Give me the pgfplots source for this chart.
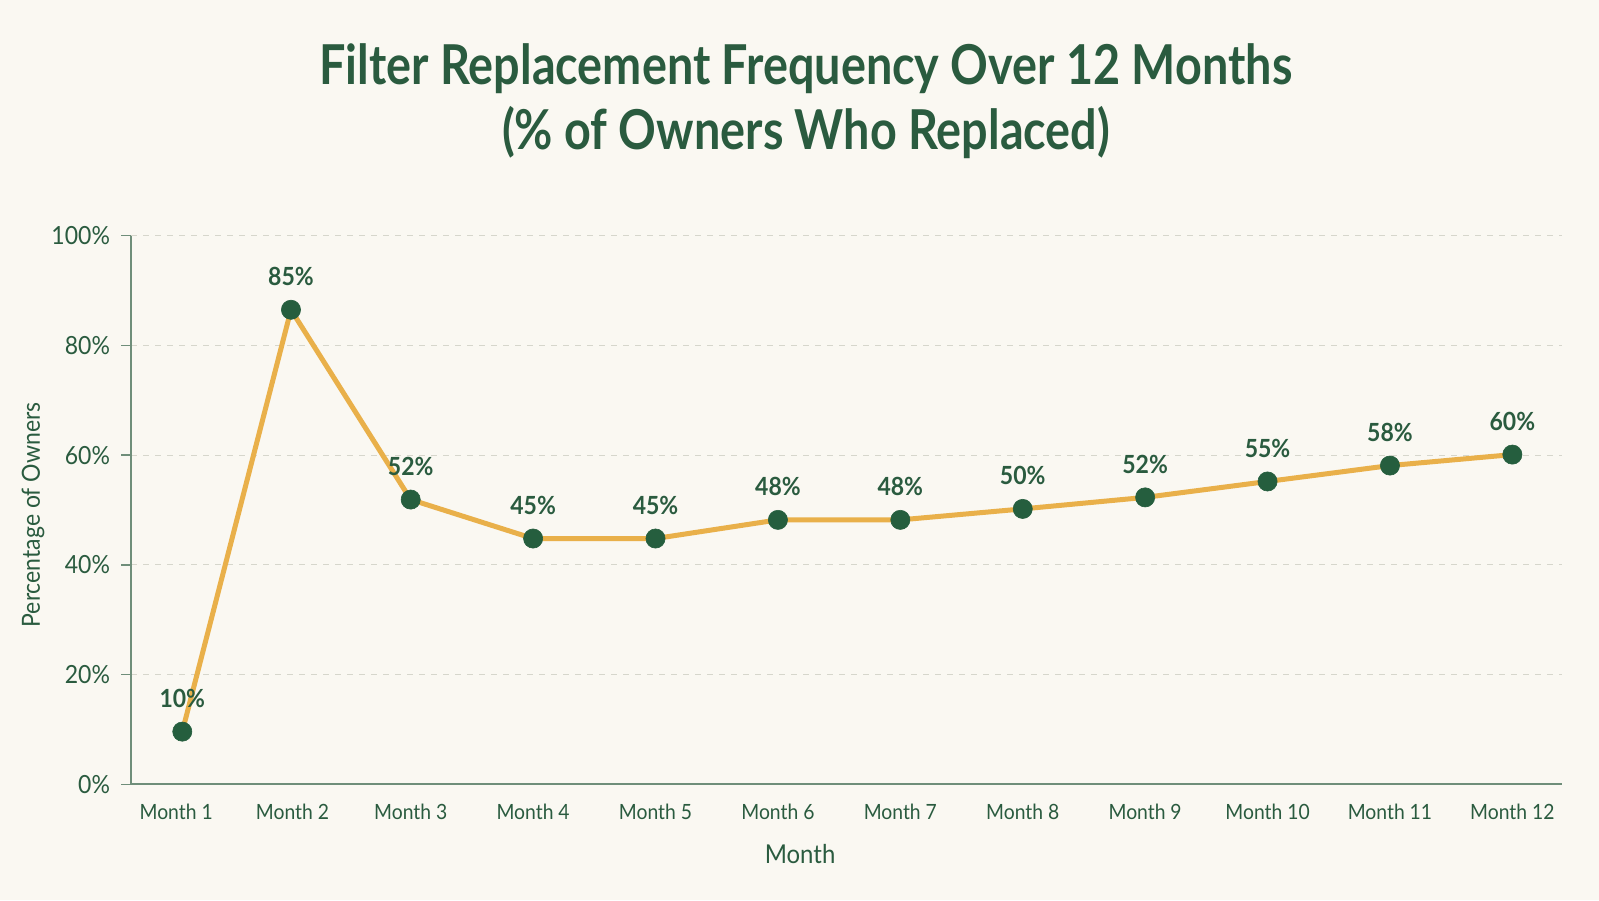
\documentclass[border=0pt]{standalone}
\usepackage{fontspec}
\setmainfont{Lato}[FakeStretch=0.92]
\newfontfamily\titlefont{Lato}[FakeStretch=0.85]
\usepackage{pgfplots}
\pgfplotsset{compat=1.18}
\definecolor{bg}{HTML}{FAF8F2}
\definecolor{dgreen}{HTML}{2A5B3F}
\definecolor{mgreen}{HTML}{255E3E}
\definecolor{gold}{HTML}{E9B04A}
\definecolor{axisg}{HTML}{6F8E7A}
\definecolor{gridc}{HTML}{D6D6CC}
\begin{document}
\begin{tikzpicture}
\fill[bg] (0,0) rectangle (799.5pt,450pt);
\node[font=\titlefont\bfseries\fontsize{27.5}{32.5}\selectfont, text=dgreen, align=center] at (403pt,399.5pt) {Filter Replacement Frequency Over 12 Months\\(\% of Owners Who Replaced)};
\begin{axis}[
  at={(65.5pt,57.85pt)}, anchor=south west,
  scale only axis, width=715.4pt, height=274.3pt,
  xmin=0.715, xmax=12.404, ymin=0, ymax=100,
  axis x line=bottom, axis y line=left,
  axis line style={axisg, line width=1pt, -},
  xtick={1.084,2.034,3,4,5,6,7,8,9,10,11,12},
  xticklabels={Month 1,Month 2,Month 3,Month 4,Month 5,Month 6,Month 7,Month 8,Month 9,Month 10,Month 11,Month 12},
  ytick={0,20,40,60,80,100},
  yticklabel={\pgfmathprintnumber{\tick}\%},
  /pgf/number format/assume math mode=true,
  tick align=outside, major tick length=5pt,
  xtick style={draw=none},
  ytick style={axisg, line width=0.8pt},
  ymajorgrids, grid style={gridc, dashed, line width=0.5pt},
  tick label style={text=dgreen},
  yticklabel style={font=\fontsize{12.5}{14}\selectfont, xshift=-2pt},
  xticklabel style={font=\fontsize{10.5}{12}\selectfont, yshift=-1.5pt},
  xlabel={Month}, ylabel={Percentage of Owners},
  xlabel style={at={(axis description cs:0.4676,-0.1276)}, anchor=center, font=\fontsize{13}{15}\selectfont, text=dgreen},
  ylabel style={at={(axis description cs:-0.0685,0.491)}, anchor=center, font=\fontsize{12.5}{14}\selectfont, text=dgreen},
  clip=false,
  point meta=explicit,
  nodes near coords={\pgfmathprintnumber{\pgfplotspointmeta}\%},
  every node near coord/.append style={font=\bfseries\fontsize{12.5}{14}\selectfont, text=dgreen, anchor=base, yshift=12pt, inner sep=0pt},
]
\addplot[gold, line width=2.5pt, mark=*, mark size=4.8pt, mark options={fill=mgreen, draw=mgreen, line width=0.3pt}]
table[x=x, y=y, meta=lab] {
x y lab
1.134 9.6 10
2.022 86.5 85
3 51.9 52
4 44.8 45
5 44.8 45
6 48.2 48
7 48.2 48
8 50.2 50
9 52.3 52
10 55.2 55
11 58.1 58
12 60.1 60
};
\end{axis}
\end{tikzpicture}
\end{document}
